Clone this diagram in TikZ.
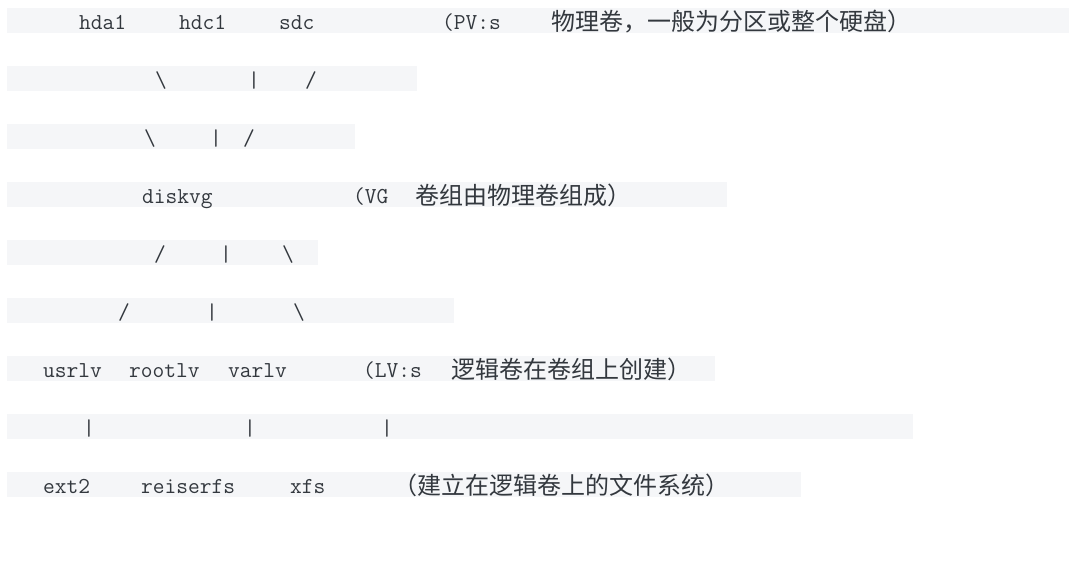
\documentclass[tikz,border=0pt]{standalone}
\usepackage{fontspec}
\newfontfamily\cjk{Noto Sans CJK SC}
\definecolor{barfill}{HTML}{F5F6F8}
\definecolor{txt}{HTML}{33383E}
\tikzset{
  bar/.style={fill=barfill},
  lat/.style={anchor=base west, inner sep=0pt, text=txt, font=\ttfamily\fontsize{22.8}{23}\selectfont},
  sym/.style={anchor=base, inner sep=0pt, text=txt, font=\ttfamily\fontsize{22.8}{23}\selectfont},
  zh/.style={anchor=base west, inner sep=0pt, text=txt, font=\cjk\fontsize{24}{24}\selectfont}
}
\begin{document}
\begin{tikzpicture}[x=1pt,y=-1pt]
\useasboundingbox (0,0) rectangle (1069,566);
% background bars
\fill[bar] (7,8) rectangle (1069,33);
\fill[bar] (7,66) rectangle (417,91);
\fill[bar] (7,124) rectangle (355,149);
\fill[bar] (7,182) rectangle (727,207);
\fill[bar] (7,240) rectangle (318,265);
\fill[bar] (7,298) rectangle (454,323);
\fill[bar] (7,356) rectangle (715,381);
\fill[bar] (7,414) rectangle (913,439);
\fill[bar] (7,472) rectangle (801,497);
% row 1
\node[lat] (hda1) at (79,29) {hda1};
\node[lat] (hdc1) at (179,29) {hdc1};
\node[lat] (sdc) at (279,29) {sdc};
\node[lat] (pv) at (442,29) {(PV:s};
\node[zh] (pvzh) at (551,30) {物理卷，一般为分区或整个硬盘）};
% row 2
\node[sym] (r2a) at (161,87) {\textbackslash};
\node[sym] (r2b) at (254,87) {|};
\node[sym] (r2c) at (311,87) {/};
% row 3
\node[sym] (r3a) at (150,145) {\textbackslash};
\node[sym] (r3b) at (216,145) {|};
\node[sym] (r3c) at (249,145) {/};
% row 4
\node[lat] (diskvg) at (142,203) {diskvg};
\node[lat] (vg) at (353,203) {(VG};
\node[zh] (vgzh) at (415,204) {卷组由物理卷组成）};
% row 5
\node[sym] (r5a) at (160,261) {/};
\node[sym] (r5b) at (226,261) {|};
\node[sym] (r5c) at (288,261) {\textbackslash};
% row 6
\node[sym] (r6a) at (124,319) {/};
\node[sym] (r6b) at (212,319) {|};
\node[sym] (r6c) at (299,319) {\textbackslash};
% row 7
\node[lat] (usrlv) at (43,377) {usrlv};
\node[lat] (rootlv) at (129,377) {rootlv};
\node[lat] (varlv) at (228,377) {varlv};
\node[lat] (lv) at (363,377) {(LV:s};
\node[zh] (lvzh) at (451,378) {逻辑卷在卷组上创建）};
% row 8
\node[sym] (r8a) at (89,435) {|};
\node[sym] (r8b) at (250,435) {|};
\node[sym] (r8c) at (387,435) {|};
% row 9
\node[lat] (ext2) at (43,493) {ext2};
\node[lat] (reiserfs) at (141,493) {reiserfs};
\node[lat] (xfs) at (290,493) {xfs};
\node[zh] (fszh) at (393,494) {（建立在逻辑卷上的文件系统）};
\end{tikzpicture}
\end{document}
